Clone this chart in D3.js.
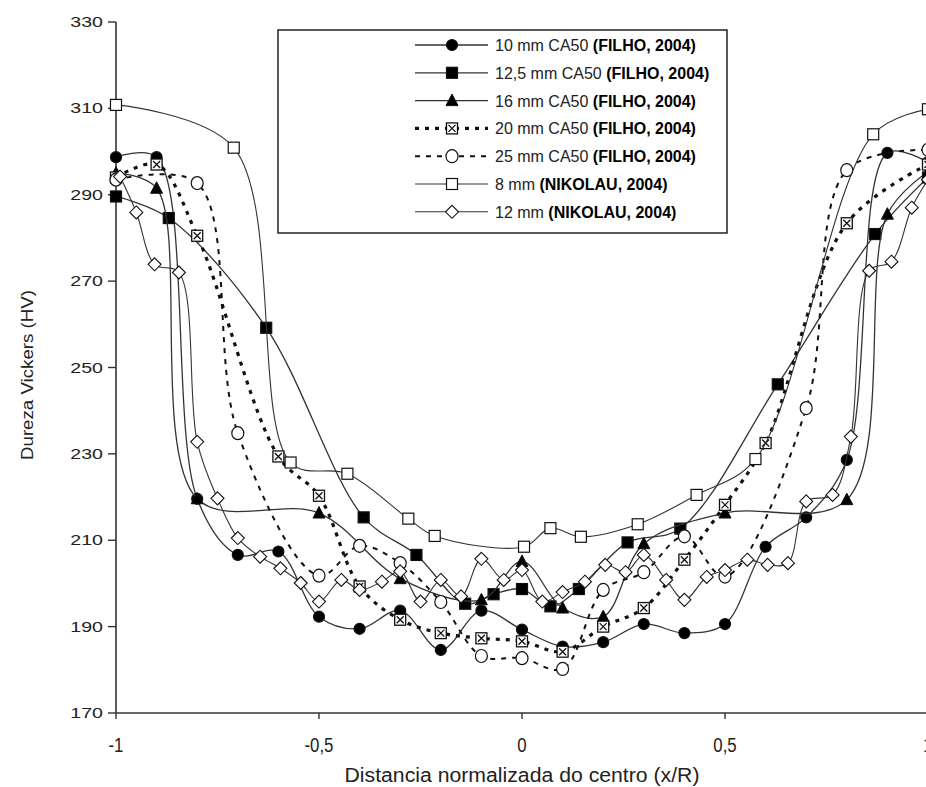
<!DOCTYPE html>
<html>
<head>
<meta charset="utf-8">
<script src="https://d3js.org/d3.v7.min.js"></script>
<style>
  body { margin: 0; background: #fff; }
  svg { display: block; font-family: "Liberation Sans", Arial, sans-serif; }
</style>
</head>
<body>
<div id="chart"></div>
<script>
// distances (x/R) and Vickers hardness
var x10 = [-1, -0.9, -0.8, -0.7, -0.6, -0.5, -0.4, -0.3, -0.2, -0.1, 0, 0.1, 0.2, 0.3, 0.4, 0.5, 0.6, 0.7, 0.8, 0.9, 1];
var hv10 = [298.7, 298.7, 219.6, 206.6, 207.4, 192.3, 189.5, 193.7, 184.6, 193.7, 189.3, 185.4, 186.4, 190.6, 188.5, 190.6, 208.5, 215.3, 228.6, 299.7, 297.5];

var x125 = [-1, -0.87, -0.63, -0.39, -0.26, -0.14, -0.07, 0, 0.07, 0.14, 0.26, 0.39, 0.63, 0.87, 1];
var hv125 = [289.6, 284.6, 259.2, 215.3, 206.6, 195.3, 197.5, 198.7, 194.7, 198.7, 209.5, 212.7, 246.1, 280.9, 294];

var x16 = [-1, -0.9, -0.8, -0.5, -0.3, -0.1, 0, 0.1, 0.2, 0.3, 0.5, 0.8, 0.9, 1];
var hv16 = [295, 291.5, 219.6, 216.3, 201.1, 196.2, 205.1, 194.3, 192.3, 209.2, 216.3, 219.4, 285.5, 295.3];

var x20 = [-1, -0.9, -0.8, -0.6, -0.5, -0.4, -0.3, -0.2, -0.1, 0, 0.1, 0.2, 0.3, 0.4, 0.5, 0.6, 0.8, 1];
var hv20 = [294, 297, 280.5, 229.4, 220.3, 199.3, 191.6, 188.5, 187.3, 186.6, 184.2, 190, 194.3, 205.5, 218.2, 232.5, 283.4, 297];

var x25 = [-1, -0.8, -0.7, -0.5, -0.4, -0.3, -0.2, -0.1, 0, 0.1, 0.2, 0.3, 0.4, 0.5, 0.7, 0.8, 1];
var hv25 = [293.5, 292.7, 234.8, 201.8, 208.7, 204.7, 195.7, 183.2, 182.7, 180.2, 198.5, 202.6, 210.9, 201.6, 240.6, 295.7, 300.4];

var x8n = [-1, -0.71, -0.57, -0.43, -0.28, -0.215, 0.005, 0.07, 0.145, 0.285, 0.43, 0.575, 0.865, 1];
var hv8n = [310.8, 300.9, 228, 225.4, 215, 211, 208.5, 212.8, 210.8, 213.7, 220.5, 228.8, 304, 309.8];

var x12n = [-0.99, -0.95, -0.905, -0.845, -0.8, -0.75, -0.7, -0.645, -0.595, -0.545, -0.5, -0.445, -0.4, -0.345, -0.3, -0.25, -0.2, -0.15, -0.1, -0.045, 0, 0.05, 0.1, 0.155, 0.205, 0.255, 0.3, 0.355, 0.4, 0.455, 0.5, 0.555, 0.605, 0.655, 0.7, 0.765, 0.81, 0.855, 0.91, 0.96, 1];
var hv12n = [294.2, 285.9, 273.9, 272, 232.8, 219.7, 210.5, 206.2, 203.5, 200.1, 195.8, 200.8, 198.5, 200.4, 202.8, 195.8, 200.8, 197, 205.7, 200.8, 203.1, 195.8, 198, 200.4, 204.3, 202.6, 206.6, 200.8, 196.2, 201.5, 203.1, 205.5, 204.3, 204.7, 219, 220.5, 234, 272.4, 274.5, 287, 293.5];

var names = ["10 mm CA50 ", "12,5 mm CA50 ", "16 mm CA50 ", "20 mm CA50 ", "25 mm CA50 ", "8 mm ", "12 mm "];
var sources = ["(FILHO, 2004)", "(FILHO, 2004)", "(FILHO, 2004)", "(FILHO, 2004)", "(FILHO, 2004)", "(NIKOLAU, 2004)", "(NIKOLAU, 2004)"];
var xTicks = [-1, -0.5, 0, 0.5, 1];
var yTicks = [170, 190, 210, 230, 250, 270, 290, 310, 330];

var series = [
  {xs: x10, ys: hv10, marker: "circle", fill: "#000", dash: null, width: 1.3},
  {xs: x125, ys: hv125, marker: "square", fill: "#000", dash: null, width: 1.3},
  {xs: x16, ys: hv16, marker: "triangle", fill: "#000", dash: null, width: 1.3},
  {xs: x20, ys: hv20, marker: "xsquare", fill: "#fff", dash: "4,6", width: 3.2},
  {xs: x25, ys: hv25, marker: "ocircle", fill: "#fff", dash: "5,6", width: 2},
  {xs: x8n, ys: hv8n, marker: "square", fill: "#fff", dash: null, width: 1.1},
  {xs: x12n, ys: hv12n, marker: "diamond", fill: "#fff", dash: null, width: 1.1}
];

var W = 926, H = 787;
var svg = d3.select("#chart").append("svg").attr("width", W).attr("height", H);
svg.append("rect").attr("width", W).attr("height", H).attr("fill", "#fff");

var x = d3.scaleLinear().domain([-1, 1]).range([116, 928]);
var y = d3.scaleLinear().domain([170, 330]).range([713, 22]);

function fmt(d) { return String(d).replace(".", ","); }

// axes
var axisCol = "#333";
svg.append("line").attr("x1", x(-1)).attr("x2", x(-1)).attr("y1", y(330)).attr("y2", y(170))
  .attr("stroke", axisCol).attr("stroke-width", 1.6);
svg.append("line").attr("x1", x(-1)).attr("x2", x(1)).attr("y1", y(170)).attr("y2", y(170))
  .attr("stroke", axisCol).attr("stroke-width", 1.6);

yTicks.forEach(function(t) {
  svg.append("line").attr("x1", x(-1) - 8).attr("x2", x(-1)).attr("y1", y(t)).attr("y2", y(t))
    .attr("stroke", axisCol).attr("stroke-width", 1.4);
  svg.append("text").attr("transform", "translate(103," + (y(t) + 5) + ") scale(1.4,1)")
    .attr("text-anchor", "end").attr("font-size", 14).attr("fill", "#222").text(t);
});
xTicks.forEach(function(t) {
  svg.append("line").attr("x1", x(t)).attr("x2", x(t)).attr("y1", y(170)).attr("y2", y(170) + 6)
    .attr("stroke", axisCol).attr("stroke-width", 1.4);
  svg.append("text").attr("transform", "translate(" + x(t) + ",752) scale(0.8,1)")
    .attr("text-anchor", "middle").attr("font-size", 21).attr("fill", "#222").text(fmt(t));
});

svg.append("text").attr("x", 522).attr("y", 782).attr("text-anchor", "middle")
  .attr("font-size", 20).attr("fill", "#222")
  .attr("textLength", 355).attr("lengthAdjust", "spacingAndGlyphs")
  .text("Distancia normalizada do centro (x/R)");
svg.append("text").attr("transform", "translate(33,375) rotate(-90)").attr("text-anchor", "middle")
  .attr("font-size", 17).attr("fill", "#222")
  .attr("textLength", 170).attr("lengthAdjust", "spacingAndGlyphs")
  .text("Dureza Vickers (HV)");

// markers
function drawMarker(g, kind, fill, cx, cy) {
  var s = 5.5;
  if (kind === "circle" || kind === "ocircle") {
    g.append("ellipse").attr("cx", cx).attr("cy", cy).attr("rx", kind === "ocircle" ? 6 : 5.5)
      .attr("ry", kind === "ocircle" ? 6.5 : 5.5)
      .attr("fill", fill).attr("stroke", "#111").attr("stroke-width", 1.2);
  } else if (kind === "square") {
    g.append("rect").attr("x", cx - s).attr("y", cy - s).attr("width", 2 * s).attr("height", 2 * s)
      .attr("fill", fill).attr("stroke", "#111").attr("stroke-width", 1.2);
  } else if (kind === "xsquare") {
    g.append("rect").attr("x", cx - s).attr("y", cy - s).attr("width", 2 * s).attr("height", 2 * s)
      .attr("fill", "#fff").attr("stroke", "#111").attr("stroke-width", 1.3);
    g.append("path").attr("d", "M" + (cx - s + 2) + "," + (cy - s + 2) + "L" + (cx + s - 2) + "," + (cy + s - 2) +
      "M" + (cx + s - 2) + "," + (cy - s + 2) + "L" + (cx - s + 2) + "," + (cy + s - 2))
      .attr("stroke", "#111").attr("stroke-width", 1.3).attr("fill", "none");
  } else if (kind === "triangle") {
    g.append("path").attr("d", "M" + cx + "," + (cy - 6.5) + "L" + (cx + 6) + "," + (cy + 5) + "L" + (cx - 6) + "," + (cy + 5) + "Z")
      .attr("fill", fill).attr("stroke", "#111").attr("stroke-width", 1);
  } else if (kind === "diamond") {
    g.append("path").attr("d", "M" + cx + "," + (cy - 6.5) + "L" + (cx + 6.5) + "," + cy + "L" + cx + "," + (cy + 6.5) + "L" + (cx - 6.5) + "," + cy + "Z")
      .attr("fill", fill).attr("stroke", "#111").attr("stroke-width", 1.1);
  }
}

var line = d3.line().x(function(d) { return x(d[0]); }).y(function(d) { return y(d[1]); })
  .curve(d3.curveCatmullRom.alpha(0.5));

var plot = svg.append("g");
series.forEach(function(s) {
  var pts = s.xs.map(function(v, i) { return [v, s.ys[i]]; });
  var g = plot.append("g");
  g.append("path").attr("d", line(pts)).attr("fill", "none").attr("stroke", s.dash ? "#111" : "#333")
    .attr("stroke-width", s.width).attr("stroke-dasharray", s.dash);
  pts.forEach(function(p) { drawMarker(g, s.marker, s.fill, x(p[0]), y(p[1])); });
});

// legend
var lg = svg.append("g");
lg.append("rect").attr("x", 278).attr("y", 30).attr("width", 449).attr("height", 203)
  .attr("fill", "#fff").attr("stroke", "#222").attr("stroke-width", 1.5);
series.forEach(function(s, i) {
  var ly = 45 + i * 27.8;
  lg.append("line").attr("x1", 415).attr("x2", 488).attr("y1", ly).attr("y2", ly)
    .attr("stroke", s.dash ? "#111" : "#333").attr("stroke-width", s.width).attr("stroke-dasharray", s.dash);
  drawMarker(lg, s.marker, s.fill, 452, ly);
  var t = lg.append("text").attr("x", 495).attr("y", ly + 6).attr("font-size", 16).attr("fill", "#222");
  t.append("tspan").text(names[i]);
  t.append("tspan").attr("font-weight", "bold").attr("fill", "#000").text(sources[i]);
});
</script>
</body>
</html>
